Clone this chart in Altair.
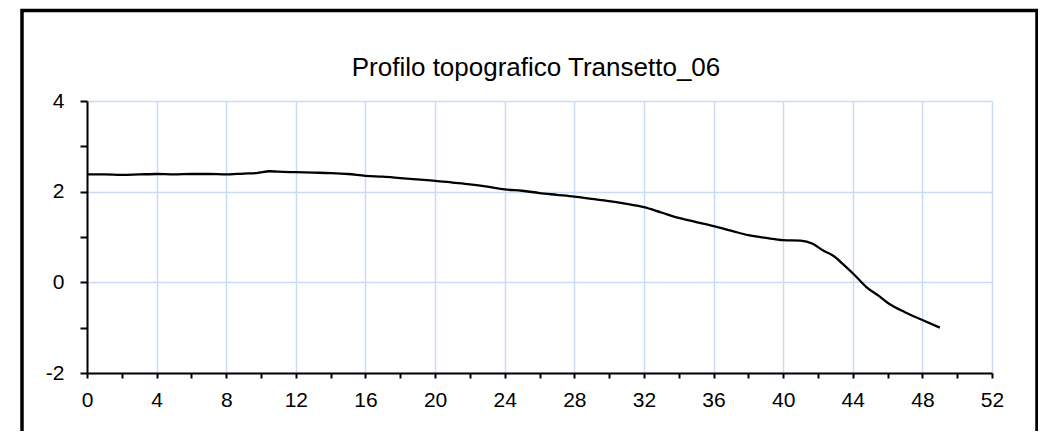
import altair as alt
import pandas as pd

title_text = "Profilo topografico Transetto_06"

distanza = [0, 1, 2, 3, 4, 5, 6, 7, 8, 9, 9.75, 10.5, 11, 12, 13, 14, 15, 16, 17, 18,
            19, 20, 21, 22, 23, 24, 25, 26, 27, 28, 29, 30, 31, 32, 33, 34, 35, 36, 37,
            38, 39, 40, 41, 41.7, 42.3, 42.9, 43.5, 44, 44.8, 45.5, 46, 47, 48, 49]
quota = [2.38, 2.38, 2.37, 2.38, 2.39, 2.38, 2.39, 2.39, 2.38, 2.40, 2.41, 2.45,
         2.44, 2.43, 2.42, 2.41, 2.39, 2.35, 2.33, 2.30, 2.27, 2.24, 2.20, 2.16,
         2.11, 2.05, 2.02, 1.97, 1.93, 1.89, 1.84, 1.79, 1.73, 1.66, 1.54, 1.42,
         1.33, 1.24, 1.14, 1.04, 0.98, 0.93, 0.92, 0.85, 0.70, 0.58, 0.38, 0.20,
         -0.11, -0.30, -0.45, -0.66, -0.83, -1.0]

x_ticks = list(range(0, 53, 2))
y_ticks = [-2, -1, 0, 1, 2, 3, 4]

df = pd.DataFrame({"x": distanza, "y": quota})

FONT = "Liberation Sans"
GRID = "#cadcf1"

line = alt.Chart(df).mark_line(color="black", strokeWidth=2.3, interpolate="monotone").encode(
    x=alt.X("x:Q", scale=alt.Scale(domain=[0, 52], nice=False),
            axis=alt.Axis(values=x_ticks, title=None, tickSize=5, labelPadding=11, labelFlush=False,
                          labelExpr="datum.value % 4 == 0 ? '' + datum.value : ''",
                          gridOpacity={"condition": {"test": "datum.value % 4 == 0", "value": 1}, "value": 0})),
    y=alt.Y("y:Q", scale=alt.Scale(domain=[-2, 4], nice=False, zero=False),
            axis=alt.Axis(values=y_ticks, title=None, tickSize=7, labelPadding=16, labelFlush=False,
                          labelExpr="datum.value % 2 == 0 ? '' + datum.value : ''",
                          gridOpacity={"condition": {"test": "datum.value % 2 == 0", "value": 1}, "value": 0})),
)

border = alt.Chart(alt.Data(values=[{}])).mark_rect(
    filled=False, stroke="black", strokeWidth=3.5
).encode(
    x=alt.value(-65), x2=alt.value(950), y=alt.value(-90.5), y2=alt.value(345)
)

title = alt.Chart(alt.Data(values=[{"t": title_text}])).mark_text(
    font=FONT, fontSize=26, color="black", align="center", baseline="alphabetic"
).encode(
    x=alt.value(449), y=alt.value(-25), text="t:N"
)

chart = alt.layer(line, border, title).properties(
    width=905, height=272,
    autosize=alt.AutoSizeParams(type="none"),
    padding={"left": 79, "top": 93, "right": 46, "bottom": 58},
).configure_view(stroke=None).configure_axis(
    domainColor="black", domainWidth=2, tickColor="black", tickWidth=2,
    labelFont=FONT, labelFontSize=21, labelColor="black",
    gridColor=GRID, gridWidth=1.5,
)

chart.save("out.html", embed_options={"renderer": "svg", "actions": False})
